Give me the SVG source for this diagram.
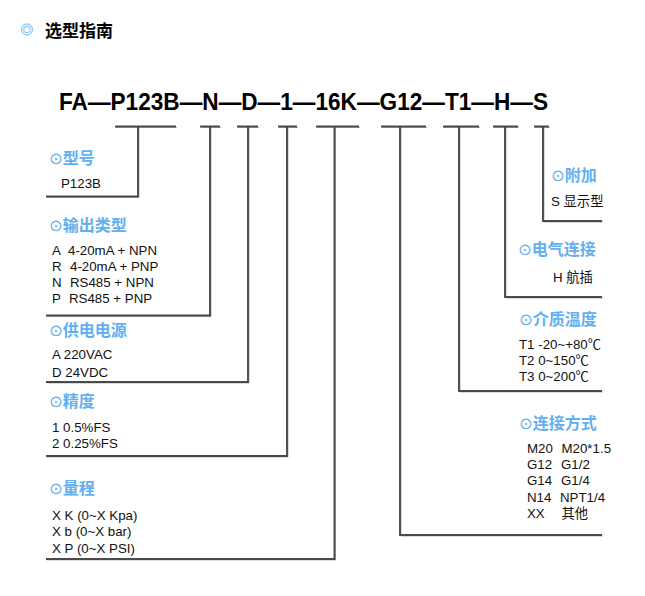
<svg xmlns="http://www.w3.org/2000/svg" width="645" height="596" viewBox="0 0 645 596">
<style>
.t{font-family:"Liberation Sans","Noto Sans CJK SC",sans-serif;font-size:13.3px;fill:#111}
.h{font-family:"Liberation Sans","Noto Sans CJK SC",sans-serif;font-size:16px;font-weight:bold;fill:#62b0ef}
.sym{font-family:"DejaVu Sans",sans-serif;font-size:16.5px;font-weight:normal}
.ln{fill:none;stroke:#4a4a4a;stroke-width:1.9}
.sh{fill:none;stroke:#b5b5b5;stroke-width:1}
</style>
<rect width="645" height="596" fill="#fff"/>
<g id="title">
<circle cx="27" cy="29.5" r="5.5" fill="none" stroke="#8ec9f7" stroke-width="1.3"/>
<circle cx="27" cy="29.5" r="3.2" fill="none" stroke="#8ec9f7" stroke-width="1.2"/>
<text x="45" y="37" style="font-family:'Liberation Sans','Noto Sans CJK SC',sans-serif;font-size:17px;font-weight:bold;fill:#000">选型指南</text>
</g>
<g id="code">
<text x="59" y="110" textLength="489" lengthAdjust="spacingAndGlyphs" style="font-family:'Liberation Sans',Arial,sans-serif;font-size:23px;font-weight:bold;fill:#000">FA—P123B—N—D—1—16K—G12—T1—H—S</text>
</g>
<g id="connectors">
<g class="sh" transform="translate(1,1)">
<path d="M115 126.5H176M138 126.5V196.5H46"/>
<path d="M200 126.5H220M210 126.5V315.5H46"/>
<path d="M237 126.5H258M248 126.5V382H46"/>
<path d="M278 126.5H297M287 126.5V456H46"/>
<path d="M316 126.5H359M334.5 126.5V559H46"/>
<path d="M381 126.5H426M400 126.5V535H602"/>
<path d="M443 126.5H479M459 126.5V391H602"/>
<path d="M493 126.5H518M505 126.5V297H602"/>
<path d="M534 126.5H549M543 126.5V221H602"/>
</g>
<g class="ln">
<path d="M115 126.5H176M138 126.5V196.5H46"/>
<path d="M200 126.5H220M210 126.5V315.5H46"/>
<path d="M237 126.5H258M248 126.5V382H46"/>
<path d="M278 126.5H297M287 126.5V456H46"/>
<path d="M316 126.5H359M334.5 126.5V559H46"/>
<path d="M381 126.5H426M400 126.5V535H602"/>
<path d="M443 126.5H479M459 126.5V391H602"/>
<path d="M493 126.5H518M505 126.5V297H602"/>
<path d="M534 126.5H549M543 126.5V221H602"/>
</g>
</g>
<g id="model">
<text class="h" x="49" y="164"><tspan class="sym">⊙</tspan>型号</text>
<text class="t" x="61" y="188">P123B</text>
</g>
<g id="output">
<text class="h" x="49" y="231"><tspan class="sym">⊙</tspan>输出类型</text>
<text class="t" x="52" y="255">A<tspan x="68">4-20mA + NPN</tspan></text>
<text class="t" x="52" y="271">R<tspan x="70">4-20mA + PNP</tspan></text>
<text class="t" x="52" y="287">N<tspan x="70">RS485 + NPN</tspan></text>
<text class="t" x="52" y="303">P<tspan x="69">RS485 + PNP</tspan></text>
</g>
<g id="power">
<text class="h" x="49" y="336"><tspan class="sym">⊙</tspan>供电电源</text>
<text class="t" x="52" y="359">A 220VAC</text>
<text class="t" x="52" y="377">D 24VDC</text>
</g>
<g id="accuracy">
<text class="h" x="49" y="407"><tspan class="sym">⊙</tspan>精度</text>
<text class="t" x="52" y="432">1 0.5%FS</text>
<text class="t" x="52" y="447.5">2 0.25%FS</text>
</g>
<g id="range">
<text class="h" x="49" y="494"><tspan class="sym">⊙</tspan>量程</text>
<text class="t" x="52" y="520">X K (0~X Kpa)</text>
<text class="t" x="52" y="536">X b (0~X bar)</text>
<text class="t" x="52" y="552.5">X P (0~X PSI)</text>
</g>
<g id="extra">
<text class="h" x="551" y="181"><tspan class="sym">⊙</tspan>附加</text>
<text class="t" x="551" y="206">S 显示型</text>
</g>
<g id="electrical">
<text class="h" x="518" y="255"><tspan class="sym">⊙</tspan>电气连接</text>
<text class="t" x="553" y="282">H 航插</text>
</g>
<g id="temperature">
<text class="h" x="519" y="325"><tspan class="sym">⊙</tspan>介质温度</text>
<text class="t" x="519" y="349">T1 -20~+80℃</text>
<text class="t" x="519" y="365">T2 0~150℃</text>
<text class="t" x="519" y="381">T3 0~200℃</text>
</g>
<g id="connection">
<text class="h" x="519" y="429"><tspan class="sym">⊙</tspan>连接方式</text>
<text class="t" x="527" y="453">M20<tspan x="561.5">M20*1.5</tspan></text>
<text class="t" x="527" y="469">G12<tspan x="561">G1/2</tspan></text>
<text class="t" x="527" y="485">G14<tspan x="561">G1/4</tspan></text>
<text class="t" x="527" y="501.5">N14<tspan x="560">NPT1/4</tspan></text>
<text class="t" x="527" y="518">XX<tspan x="561.5">其他</tspan></text>
</g>
</svg>
